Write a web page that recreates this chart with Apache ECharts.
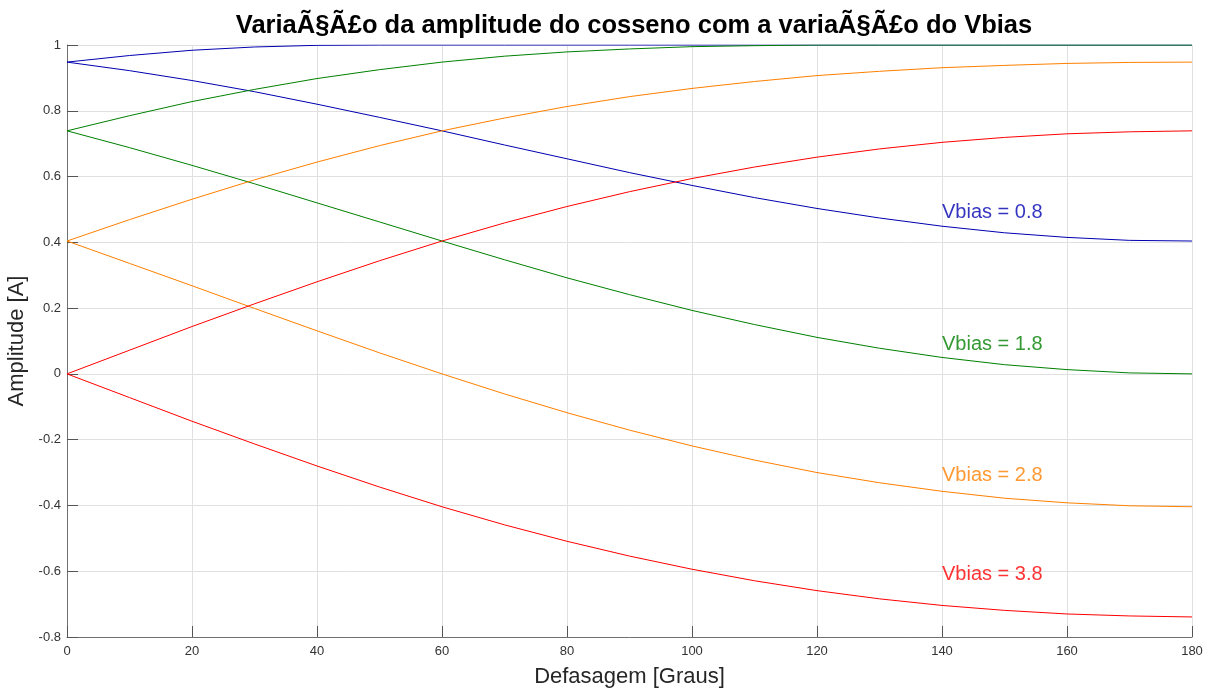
<!DOCTYPE html>
<html>
<head>
<meta charset="utf-8">
<script src="https://cdn.jsdelivr.net/npm/echarts@6/dist/echarts.min.js"></script>
<style>
  html, body { margin: 0; padding: 0; background: #ffffff; }
  #chart { width: 1211px; height: 689px; }
</style>
</head>
<body>
<div id="chart"></div>
<script>
// Phase shift in degrees (x axis)
const phaseDeg = [0, 10, 20, 30, 40, 50, 60, 70, 80, 90, 100, 110, 120, 130, 140, 150, 160, 170, 180];

// Cosine amplitude [A] for each bias voltage: one rising and one falling branch
const vb08Upper = [0.948, 0.968, 0.984, 0.994, 0.999, 1, 1, 1, 1, 1, 1, 1, 1, 1, 1, 1, 1, 1, 1];
const vb08Lower = [0.948, 0.922, 0.892, 0.858, 0.820, 0.780, 0.739, 0.696, 0.654, 0.612, 0.573, 0.536, 0.503, 0.474, 0.449, 0.429, 0.415, 0.406, 0.404];

const vb18Upper = [0.739, 0.785, 0.828, 0.865, 0.898, 0.925, 0.948, 0.966, 0.979, 0.988, 0.995, 0.998, 1, 1, 1, 1, 1, 1, 1];
const vb18Lower = [0.739, 0.688, 0.634, 0.578, 0.520, 0.462, 0.404, 0.347, 0.292, 0.241, 0.193, 0.150, 0.111, 0.078, 0.050, 0.028, 0.013, 0.003, 0];

const vb28Upper = [0.404, 0.469, 0.531, 0.590, 0.644, 0.694, 0.739, 0.778, 0.813, 0.843, 0.868, 0.889, 0.907, 0.920, 0.931, 0.938, 0.944, 0.947, 0.948];
const vb28Lower = [0.404, 0.336, 0.268, 0.199, 0.131, 0.064, 0, -0.061, -0.118, -0.171, -0.219, -0.262, -0.300, -0.331, -0.357, -0.378, -0.392, -0.401, -0.404];

const vb38Upper = [0, 0.072, 0.144, 0.213, 0.280, 0.344, 0.404, 0.459, 0.509, 0.554, 0.594, 0.629, 0.659, 0.684, 0.704, 0.719, 0.730, 0.736, 0.739];
const vb38Lower = [0, -0.072, -0.144, -0.213, -0.280, -0.344, -0.404, -0.459, -0.509, -0.554, -0.594, -0.629, -0.659, -0.684, -0.704, -0.719, -0.730, -0.736, -0.739];

// Curve annotations
const annotationText = ['Vbias = 0.8', 'Vbias = 1.8', 'Vbias = 2.8', 'Vbias = 3.8'];
const annotationX = [140, 140, 140, 140];
const annotationY = [0.5, 0.1, -0.3, -0.6];

const titleText = 'VariaÃ§Ã£o da amplitude do cosseno com a variaÃ§Ã£o do Vbias';
const xAxisTitle = 'Defasagem [Graus]';
const yAxisTitle = 'Amplitude [A]';

const colors = ['#0000b0', '#008000', '#ff8000', '#ff0000'];
const FONT = '"Liberation Sans", Arial, Helvetica, sans-serif';

const branches = [
  [vb08Upper, vb08Lower],
  [vb18Upper, vb18Lower],
  [vb28Upper, vb28Lower],
  [vb38Upper, vb38Lower]
];

const series = [];
branches.forEach(function (pair, i) {
  pair.forEach(function (vals) {
    series.push({
      type: 'line',
      data: phaseDeg.map(function (x, j) { return [x, vals[j]]; }),
      showSymbol: false,
      symbol: 'none',
      lineStyle: { color: colors[i], width: 1 },
      silent: true,
      animation: false
    });
  });
});

series.push({
  type: 'scatter',
  symbolSize: 0,
  silent: true,
  animation: false,
  data: annotationText.map(function (t, i) {
    return {
      value: [annotationX[i], annotationY[i]],
      name: t,
      label: { color: colors[i] }
    };
  }),
  label: {
    show: true,
    position: 'right',
    distance: 0,
    offset: [0, 3],
    formatter: function (p) { return p.name; },
    fontFamily: FONT,
    fontSize: 20,
    align: 'left',
    verticalAlign: 'middle'
  }
});

const chart = echarts.init(document.getElementById('chart'), null, { renderer: 'canvas' });
chart.setOption({
  animation: false,
  backgroundColor: '#ffffff',
  title: {
    text: titleText,
    left: 629,
    top: 8,
    textAlign: 'center',
    textStyle: { fontFamily: FONT, fontSize: 25.5, fontWeight: 'bold', color: '#000000' }
  },
  grid: { left: 67, top: 45, width: 1125, height: 592, containLabel: false, outerBoundsMode: 'none' },
  xAxis: {
    type: 'value',
    min: 0, max: 180, interval: 20,
    name: xAxisTitle,
    nameLocation: 'middle',
    nameGap: 29,
    nameTextStyle: { fontFamily: FONT, fontSize: 22, color: '#262626' },
    axisLine: { show: true, onZero: false, lineStyle: { color: '#707070', width: 1 } },
    axisTick: { show: true, inside: true, length: 11, lineStyle: { color: '#555555' } },
    axisLabel: { fontFamily: FONT, fontSize: 13, color: '#333333', margin: 8 },
    splitLine: { show: true, lineStyle: { color: '#e0e0e0', width: 1 } }
  },
  yAxis: {
    type: 'value',
    min: -0.8, max: 1, interval: 0.2,
    name: yAxisTitle,
    nameLocation: 'middle',
    nameRotate: 90,
    nameGap: 32,
    nameTextStyle: { fontFamily: FONT, fontSize: 22, color: '#262626' },
    axisLine: { show: true, onZero: false, lineStyle: { color: '#707070', width: 1 } },
    axisTick: { show: true, inside: true, length: 11, lineStyle: { color: '#555555' } },
    axisLabel: {
      fontFamily: FONT, fontSize: 13, color: '#333333', margin: 6,
      formatter: function (v) { return String(Math.round(v * 10) / 10); }
    },
    splitLine: { show: true, lineStyle: { color: '#e0e0e0', width: 1 } }
  },
  series: series
});
</script>
</body>
</html>
